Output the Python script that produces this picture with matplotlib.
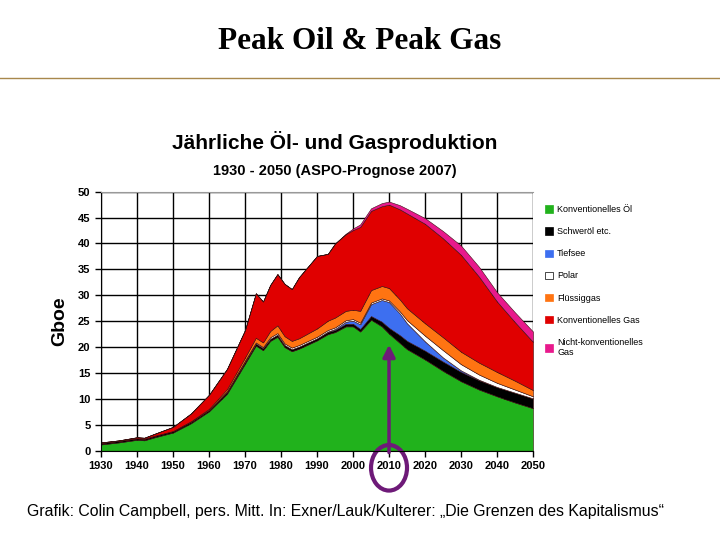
import matplotlib.pyplot as plt
from matplotlib.patches import Patch, Ellipse

# Jahre (Stützstellen) und Schichtdicken in Gboe
jahre = [1930, 1935, 1940, 1942, 1945, 1950, 1955, 1960, 1965, 1970, 1973, 1975,
         1977, 1979, 1981, 1983, 1985, 1990, 1993, 1995, 1998, 2000, 2002, 2005,
         2008, 2010, 2013, 2015, 2020, 2025, 2030, 2035, 2040, 2045, 2050]

konv_oel = [1.2, 1.6, 2.1, 2.0, 2.6, 3.5, 5.3, 7.6, 11.0, 16.8, 20.3, 19.4,
            21.2, 22.0, 20.0, 19.2, 19.7, 21.3, 22.5, 22.9, 24.0, 24.0, 23.0, 25.3,
            24.0, 22.6, 20.8, 19.6, 17.6, 15.4, 13.4, 11.8, 10.5, 9.3, 8.2]
schweroel = [0.3, 0.3, 0.3, 0.3, 0.3, 0.3, 0.3, 0.3, 0.4, 0.4, 0.4, 0.4,
             0.4, 0.4, 0.4, 0.4, 0.4, 0.4, 0.4, 0.4, 0.5, 0.5, 0.5, 0.7,
             0.9, 1.1, 1.5, 1.6, 1.7, 1.8, 1.8, 1.8, 1.8, 1.9, 1.9]
tiefsee = [0, 0, 0, 0, 0, 0, 0, 0, 0, 0, 0, 0,
           0, 0, 0, 0, 0, 0, 0.1, 0.2, 0.4, 0.6, 0.9, 2.3,
           4.2, 5.0, 4.2, 3.4, 1.8, 0.8, 0.3, 0.1, 0, 0, 0]
polar = [0, 0, 0, 0, 0, 0, 0, 0, 0.1, 0.2, 0.2, 0.2,
         0.3, 0.3, 0.3, 0.3, 0.3, 0.3, 0.3, 0.3, 0.3, 0.3, 0.3, 0.3,
         0.3, 0.3, 0.4, 0.6, 1.1, 1.4, 1.2, 1.0, 0.8, 0.6, 0.4]
fluessiggas = [0, 0, 0, 0, 0, 0, 0.1, 0.2, 0.4, 0.6, 0.9, 0.9,
               1.2, 1.5, 1.4, 1.3, 1.3, 1.6, 1.8, 1.9, 1.8, 1.8, 2.3, 2.4,
               2.4, 2.4, 2.3, 2.3, 2.4, 2.5, 2.4, 2.3, 2.1, 1.7, 1.2]
konv_gas = [0.1, 0.1, 0.2, 0.2, 0.4, 0.8, 1.5, 2.7, 3.9, 5.3, 8.6, 7.9,
            8.9, 9.9, 10.1, 10.0, 11.8, 14.0, 12.9, 14.3, 14.8, 15.4, 16.2, 15.3,
            15.4, 16.1, 17.4, 18.3, 19.2, 19.1, 18.7, 16.6, 13.6, 11.3, 9.3]
nicht_konv_gas = [0, 0, 0, 0, 0, 0, 0, 0, 0, 0, 0, 0,
                  0, 0, 0, 0, 0, 0, 0, 0, 0.1, 0.3, 0.5, 0.5,
                  0.6, 0.6, 0.8, 0.9, 1.1, 1.4, 1.8, 1.9, 1.8, 1.9, 2.0]

namen = ['Konventionelles Öl', 'Schweröl etc.', 'Tiefsee', 'Polar', 'Flüssiggas',
         'Konventionelles Gas', 'Nicht-konventionelles\nGas']
farben = ['#21b21c', '#000000', '#3d6ff0', '#ffffff', '#ff7412', '#e00000', '#e8198c']

fig = plt.figure(figsize=(7.2, 5.4), dpi=100)

# Folientitel und Linie
fig.text(0.5, 0.924, 'Peak Oil & Peak Gas', ha='center', va='center',
         family='Liberation Serif', fontweight='bold', fontsize=22.5)
fig.add_artist(plt.Line2D([0, 1], [0.856, 0.856], color='#a8884c', lw=1))

fig.text(0.465, 0.737, 'Jährliche Öl- und Gasproduktion', ha='center', va='center',
         family='Liberation Sans', fontweight='bold', fontsize=15)
fig.text(0.465, 0.683, '1930 - 2050 (ASPO-Prognose 2007)', ha='center', va='center',
         family='Liberation Sans', fontweight='bold', fontsize=10.5)

ax = fig.add_axes([0.1403, 0.1654, 0.6, 0.4796])
ax.stackplot(jahre, konv_oel, schweroel, tiefsee, polar, fluessiggas, konv_gas,
             nicht_konv_gas, colors=farben, edgecolor='#3a1010', linewidth=0.4)

ax.set_xlim(1930, 2050)
ax.set_ylim(0, 50)
ax.set_xticks(range(1930, 2051, 10))
ax.set_yticks(range(0, 51, 5))
ax.set_axisbelow(True)
ax.grid(True, color='black', lw=1)
ax.tick_params(labelsize=8, length=4, width=1, colors='black')
for lab in ax.get_xticklabels() + ax.get_yticklabels():
    lab.set_fontweight('bold')
    lab.set_family('Liberation Sans')
ax.spines['right'].set_visible(False)
ax.spines['top'].set_color('#999999')
ax.set_ylabel('Gboe', fontsize=14, fontweight='bold', family='Liberation Sans', labelpad=7)

# Pfeil und Ellipse bei 2010
ax.annotate('', xy=(2010, 21.0), xytext=(2010, -0.9),
            arrowprops=dict(arrowstyle='-|>', color='#6e1a78', lw=2.5, mutation_scale=18),
            annotation_clip=False)
ax.add_patch(Ellipse((2010, -3.3), 10, 8.8, fill=False, edgecolor='#6e1a78', lw=3,
                     clip_on=False))

griffe = [Patch(facecolor=f, edgecolor='black' if f == '#ffffff' else f, lw=0.5)
          for f in farben]
fig.legend(griffe, namen, loc='upper left', bbox_to_anchor=(0.745, 0.635),
           frameon=False, handlelength=0.9, handleheight=0.9,
           handletextpad=0.5, labelspacing=1.45, prop={'family': 'Liberation Sans', 'size': 6.5})

fig.text(0.48, 0.052, 'Grafik: Colin Campbell, pers. Mitt. In: Exner/Lauk/Kulterer: \u201eDie Grenzen des Kapitalismus\u201c',
         ha='center', va='center', family='Liberation Sans', fontsize=11.4)

plt.savefig('out.png', dpi=100)
